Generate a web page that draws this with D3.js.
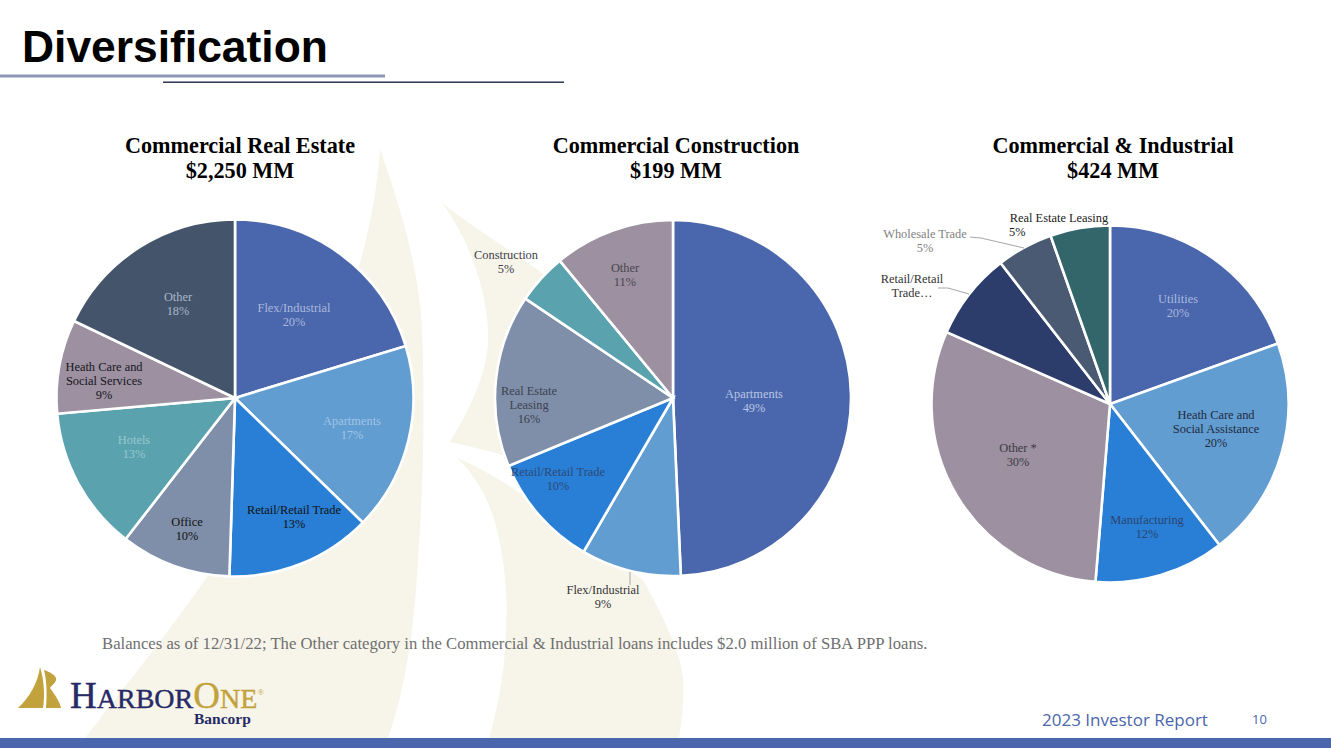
<!DOCTYPE html>
<html>
<head>
<meta charset="utf-8">
<style>
  html, body { margin: 0; padding: 0; background: #fff; }
  svg { display: block; }
  text { font-family: "Liberation Serif", serif; }
</style>
</head>
<body>
<script src="https://d3js.org/d3.v7.min.js"></script>
<script>

/* values, percent of each pie */
var creNames = ["Flex/Industrial", "Apartments", "Retail/Retail Trade", "Office", "Hotels", "Heath Care and|Social Services", "Other"];
var creValues = [20.3, 17.0, 13.2, 10.0, 13.1, 8.5, 17.9];

var conNames = ["Apartments", "Flex/Industrial", "Retail/Retail Trade", "Real Estate|Leasing", "Construction", "Other"];
var conValues = [49.4, 9.1, 10.4, 15.7, 4.6, 11.0];

var ciNames = ["Utilities", "Heath Care and|Social Assistance", "Manufacturing", "Other *", "Retail/Retail|Trade\u2026", "Wholesale Trade", "Real Estate Leasing"];
var ciValues = [19.5, 20.0, 11.8, 30.3, 7.9, 5.1, 5.4];
var ciShowPct = [true, true, true, true, false, true, true];

var creColors = ["#4a66ac", "#629dd1", "#297fd5", "#7f8fa9", "#5aa2ae", "#9d90a0", "#44546a"];
var conColors = ["#4a66ac", "#629dd1", "#297fd5", "#7f8fa9", "#5aa2ae", "#9d90a0"];
var ciColors = ["#4a66ac", "#629dd1", "#297fd5", "#9d90a0", "#2c3c6b", "#4a5a73", "#33666b"];

var creLabelColors = ["#a9b9de", "#a0c4e6", "#111111", "#111111", "#98c8cf", "#161620", "#a9b6cc"];
var conLabelColors = ["#b9c6e4", "#333333", "#2b4a78", "#3c4250", "#40404c", "#46464f"];
var ciLabelColors = ["#a9b9de", "#1e2a3e", "#2a4570", "#3b3b45", "#333333", "#7f7f7f", "#222222"];

/* label centres, page px: first line centre y */
var creLabelPos = [[294, 308], [352, 421], [294, 510], [187, 522], [134, 440], [104, 367], [178, 297]];
var conLabelPos = [[754, 394], [603, 590], [558, 472], [529, 391], [506, 255], [625, 268]];
var ciLabelPos = [[1178, 299], [1216, 415], [1147, 520], [1018, 448], [912, 279], [925, 234], [1059, 218]];

var width = 1331, height = 748;

var svg = d3.select("body").append("svg")
	.attr("width", width)
	.attr("height", height);

/* pale sail watermark behind everything */
var sails = [
	"M380,148 C392,185 412,240 420,303 C425,350 425,470 418,560 C414,640 402,700 388,738 L85,738 C130,680 170,630 207,577 C260,480 330,350 360,263 C372,220 378,180 380,148 Z",
	"M442,203 C470,225 510,250 545,275 L640,400 L600,500 L510,458 C490,450 470,447 450,442 C475,400 490,365 488,330 C486,290 470,240 442,203 Z",
	"M457,458 C500,475 560,520 643,580 C660,610 680,650 683,677 C684,700 682,720 679,738 L489,738 C500,700 506,660 506,627 C508,590 504,560 497,530 C490,500 475,475 457,458 Z"
];
svg.selectAll("path.sail")
	.data(sails)
	.enter().append("path")
	.attr("class", "sail")
	.attr("d", function(d) { return d; })
	.attr("fill", "#f7f5ea");

/* header */
svg.append("text")
	.text("Diversification")
	.attr("x", 22)
	.attr("y", 62)
	.style("font-family", "'Liberation Sans', sans-serif")
	.style("font-weight", "bold")
	.style("font-size", "44.4px")
	.attr("fill", "#000");
svg.append("rect").attr("x", 0).attr("y", 74.5).attr("width", 385).attr("height", 3).attr("fill", "#8e95b6");
svg.append("rect").attr("x", 163).attr("y", 81.5).attr("width", 401).attr("height", 1.4).attr("fill", "#1f2a44");

var arc = d3.arc().innerRadius(0);
var pie = d3.pie().sort(null).value(function(d) { return d; });

function drawPie(cx, cy, r, values, names, colors, labelColors, labelPos, showPct) {
	var g = svg.append("g");
	g.selectAll("path")
		.data(pie(values))
		.enter().append("path")
		.attr("transform", "translate(" + cx + "," + cy + ")")
		.attr("d", function(d) { return arc.outerRadius(r)(d); })
		.attr("fill", function(d, i) { return colors[i]; })
		.attr("stroke", "#fff")
		.attr("stroke-width", 2.6);

	names.forEach(function(name, i) {
		var lines = name.split("|");
		if (!showPct || showPct[i]) lines.push(Math.round(values[i]) + "%");
		var t = g.append("text")
			.attr("text-anchor", "middle")
			.attr("fill", labelColors[i])
			.style("font-size", "12.4px");
		lines.forEach(function(line, k) {
			t.append("tspan")
				.attr("x", labelPos[i][0])
				.attr("y", labelPos[i][1] + k * 14.2 + 4)
				.text(line);
		});
	});
	return g;
}

drawPie(235, 398, 178.5, creValues, creNames, creColors, creLabelColors, creLabelPos);
drawPie(673, 398, 178, conValues, conNames, conColors, conLabelColors, conLabelPos);
var ciPie = drawPie(1110, 404, 178.5, ciValues, ciNames, ciColors, ciLabelColors, ciLabelPos, ciShowPct);

/* the Real Estate Leasing percent sits left aligned in the original */
ciPie.selectAll("text").filter(function() { return this.textContent.indexOf("Real Estate Leasing") == 0; })
	.select("tspan:last-child")
	.attr("x", 1009)
	.attr("text-anchor", "start");

/* leader lines */
var leader = d3.line();
var leaders = [
	[[630, 572], [630, 585]],
	[[970, 237], [981, 238], [1024, 248]],
	[[938, 288], [948, 288], [969, 294]]
];
svg.selectAll("path.leader")
	.data(leaders)
	.enter().append("path")
	.attr("class", "leader")
	.attr("d", leader)
	.attr("fill", "none")
	.attr("stroke", "#a6a6a6")
	.attr("stroke-width", 1);

/* pie titles */
var titles = [
	["Commercial Real Estate", "$2,250 MM", 240],
	["Commercial Construction", "$199 MM", 676],
	["Commercial & Industrial", "$424 MM", 1113]
];
titles.forEach(function(t) {
	[t[0], t[1]].forEach(function(line, k) {
		svg.append("text")
			.text(line)
			.attr("x", t[2])
			.attr("y", 153 + k * 25)
			.attr("text-anchor", "middle")
			.style("font-weight", "bold")
			.style("font-size", "22.2px")
			.attr("fill", "#000");
	});
});

/* footnote */
svg.append("text")
	.text("Balances as of 12/31/22; The Other category in the Commercial & Industrial loans includes $2.0 million of SBA PPP loans.")
	.attr("x", 102)
	.attr("y", 648.5)
	.style("font-size", "16.7px")
	.attr("fill", "#6f6f6f");

/* logo */
var logoSails = [
	"M40,667 C44,680 45,695 43,708 L18,708 C30,697 38,682 40,667 Z",
	"M44,670 C50,672 55,675 56,678 C57,682 52,685 50,688 C55,695 60,702 61,708 L46,708 C47,695 47,682 44,670 Z"
];
svg.selectAll("path.logo")
	.data(logoSails)
	.enter().append("path")
	.attr("class", "logo")
	.attr("d", function(d) { return d; })
	.attr("fill", "#c2a23c");

var logo = svg.append("text")
	.attr("x", 70)
	.attr("y", 708)
	.attr("fill", "#262a66")
	.attr("stroke", "currentColor")
	.style("font-size", "28px");
logo.append("tspan").text("H").attr("stroke", "#262a66").attr("stroke-width", 0.4).style("font-size", "37px");
logo.append("tspan").text("ARBOR").attr("stroke", "#262a66").attr("stroke-width", 0.4);
logo.append("tspan").text("O").attr("fill", "#c2a23c").attr("stroke", "#c2a23c").attr("stroke-width", 0.4).style("font-size", "37px");
logo.append("tspan").text("NE").attr("fill", "#c2a23c").attr("stroke", "#c2a23c").attr("stroke-width", 0.4);
logo.append("tspan").text("\u00ae").attr("fill", "#c2a23c").attr("stroke", "none").attr("dy", -13).style("font-size", "9px");

svg.append("text")
	.text("Bancorp")
	.attr("x", 194)
	.attr("y", 724)
	.attr("fill", "#262a66")
	.style("font-weight", "bold")
	.style("font-size", "15.5px");

/* footer */
svg.append("text")
	.text("2023 Investor Report")
	.attr("x", 1042)
	.attr("y", 726)
	.style("font-family", "'Open Sans', sans-serif")
	.style("font-size", "17px")
	.attr("fill", "#4a66ac");
svg.append("text")
	.text("10")
	.attr("x", 1252)
	.attr("y", 724)
	.style("font-family", "'Open Sans', sans-serif")
	.style("font-size", "13px")
	.attr("fill", "#4a66ac");
svg.append("rect").attr("x", 0).attr("y", 738).attr("width", width).attr("height", 10).attr("fill", "#4a66ac");

</script>
</body>
</html>
